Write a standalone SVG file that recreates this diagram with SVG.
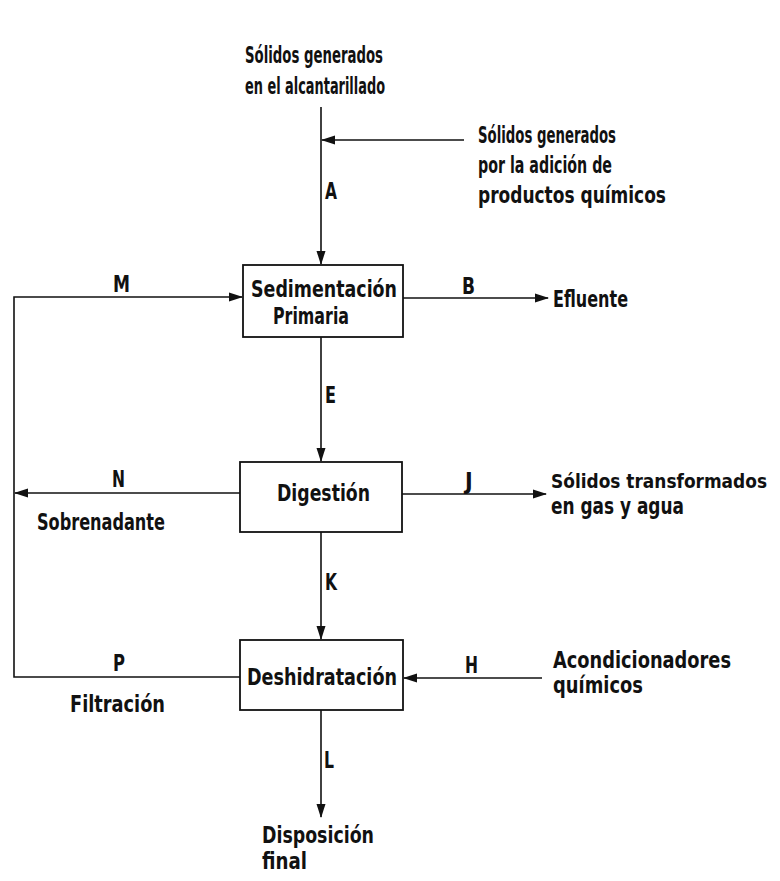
<svg xmlns="http://www.w3.org/2000/svg" width="780" height="881" viewBox="0 0 780 881">
<style>
text{font-family:"Liberation Sans Narrow","DejaVu Sans Condensed","Liberation Sans",Arial,sans-serif;font-weight:bold;font-size:23px;fill:#111}
.lbl{font-size:23px}
.sm{font-size:20px}
.box{fill:#fff;stroke:#111;stroke-width:1.8}
.ln{fill:none;stroke:#111;stroke-width:1.6}
</style>
<defs>
<marker id="ah" markerWidth="14" markerHeight="10" refX="13" refY="5" orient="auto" markerUnits="userSpaceOnUse">
<path d="M0,0.5 L14,5 L0,9.5 Z" fill="#111"/>
</marker>
</defs>
<rect width="780" height="881" fill="#fff"/>

<g id="connectors">
<line class="ln" x1="321" y1="107" x2="321" y2="264" marker-end="url(#ah)"/>
<line class="ln" x1="464" y1="140" x2="322" y2="140" marker-end="url(#ah)"/>
<polyline class="ln" points="240,677 14,677 14,297 242,297" marker-end="url(#ah)"/>
<line class="ln" x1="240" y1="493" x2="15" y2="493" marker-end="url(#ah)"/>
<line class="ln" x1="403" y1="298" x2="548" y2="298" marker-end="url(#ah)"/>
<line class="ln" x1="402" y1="494" x2="546" y2="494" marker-end="url(#ah)"/>
<line class="ln" x1="542" y1="678" x2="404" y2="678" marker-end="url(#ah)"/>
<line class="ln" x1="321" y1="337" x2="321" y2="461" marker-end="url(#ah)"/>
<line class="ln" x1="321" y1="532" x2="321" y2="639" marker-end="url(#ah)"/>
<line class="ln" x1="321" y1="710" x2="321" y2="817" marker-end="url(#ah)"/>
<text class="lbl" x="325" y="199" textLength="12" lengthAdjust="spacingAndGlyphs">A</text>
<text class="lbl" x="113" y="292" textLength="17" lengthAdjust="spacingAndGlyphs">M</text>
<text class="lbl" x="462" y="294" textLength="13" lengthAdjust="spacingAndGlyphs">B</text>
<text class="lbl" x="325" y="403" textLength="11" lengthAdjust="spacingAndGlyphs">E</text>
<text class="lbl" x="112" y="487" textLength="13" lengthAdjust="spacingAndGlyphs">N</text>
<text class="lbl" x="465" y="489">J</text>
<text class="lbl" x="325" y="590" textLength="12" lengthAdjust="spacingAndGlyphs">K</text>
<text class="lbl" x="113" y="671" textLength="12" lengthAdjust="spacingAndGlyphs">P</text>
<text class="lbl" x="465" y="673" textLength="13" lengthAdjust="spacingAndGlyphs">H</text>
<text class="lbl" x="324" y="768" textLength="10" lengthAdjust="spacingAndGlyphs">L</text>
</g>

<g id="src-sewer">
<text x="245" y="63" textLength="138" lengthAdjust="spacingAndGlyphs">Sólidos generados</text>
<text x="245" y="94" textLength="140" lengthAdjust="spacingAndGlyphs">en el alcantarillado</text>
</g>
<g id="src-chem">
<text x="478" y="143" textLength="138" lengthAdjust="spacingAndGlyphs">Sólidos generados</text>
<text x="478" y="173" textLength="134" lengthAdjust="spacingAndGlyphs">por la adición de</text>
<text x="478" y="203" textLength="188" lengthAdjust="spacingAndGlyphs">productos químicos</text>
</g>
<g id="sedimentacion">
<rect class="box" x="243" y="265" width="160" height="72"/>
<text x="251" y="297" textLength="146" lengthAdjust="spacingAndGlyphs">Sedimentación</text>
<text x="273" y="324" textLength="76" lengthAdjust="spacingAndGlyphs">Primaria</text>
</g>
<g id="efluente">
<text x="553" y="307" textLength="75" lengthAdjust="spacingAndGlyphs">Efluente</text>
</g>
<g id="digestion">
<rect class="box" x="240" y="462" width="162" height="70"/>
<text x="277" y="501" textLength="93" lengthAdjust="spacingAndGlyphs">Digestión</text>
</g>
<g id="sobrenadante">
<text x="37" y="530" textLength="128" lengthAdjust="spacingAndGlyphs">Sobrenadante</text>
</g>
<g id="gas-agua">
<text class="sm" x="551" y="488" textLength="216" lengthAdjust="spacingAndGlyphs">Sólidos transformados</text>
<text x="551" y="514" textLength="133" lengthAdjust="spacingAndGlyphs">en gas y agua</text>
</g>
<g id="deshidratacion">
<rect class="box" x="240" y="640" width="163" height="70"/>
<text x="247" y="685" textLength="150" lengthAdjust="spacingAndGlyphs">Deshidratación</text>
</g>
<g id="filtracion">
<text x="70" y="712" textLength="95" lengthAdjust="spacingAndGlyphs">Filtración</text>
</g>
<g id="acondicionadores">
<text x="553" y="668" textLength="178" lengthAdjust="spacingAndGlyphs">Acondicionadores</text>
<text x="553" y="693" textLength="90" lengthAdjust="spacingAndGlyphs">químicos</text>
</g>
<g id="disposicion">
<text x="262" y="843" textLength="112" lengthAdjust="spacingAndGlyphs">Disposición</text>
<text x="262" y="869" textLength="45" lengthAdjust="spacingAndGlyphs">final</text>
</g>
</svg>
